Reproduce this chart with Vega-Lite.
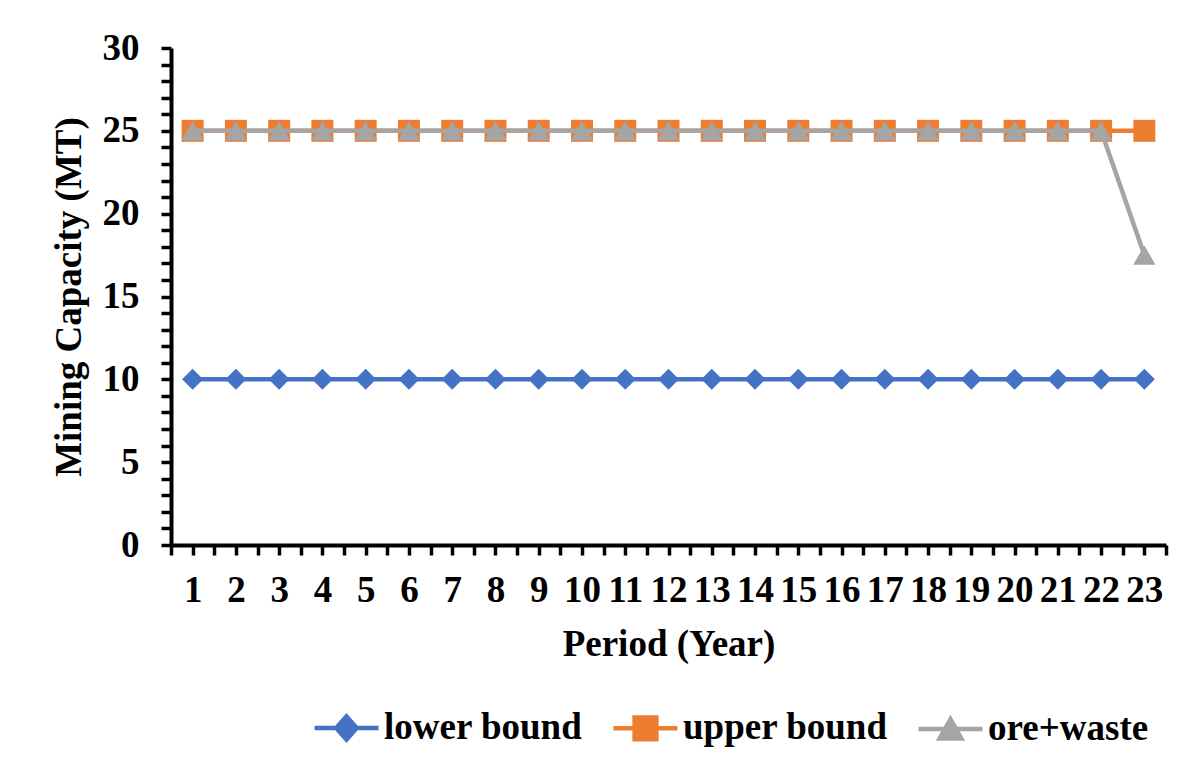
{
  "$schema": "https://vega.github.io/schema/vega-lite/v6.json",
  "width": 995,
  "height": 497,
  "autosize": {"type": "none"},
  "padding": {"left": 171, "top": 48, "right": 29, "bottom": 233},
  "background": "white",
  "config": {
    "view": {"stroke": null},
    "font": "Liberation Serif",
    "axis": {"grid": false, "domainColor": "black", "tickColor": "black", "labelColor": "black", "titleColor": "black", "labelFont": "Liberation Serif", "titleFont": "Liberation Serif", "labelFontWeight": "bold", "titleFontWeight": "bold", "labelFontSize": 37, "titleFontSize": 37}
  },
  "data": {"values": [
    {"period": 1, "series": "lower bound", "value": 10}, {"period": 2, "series": "lower bound", "value": 10}, {"period": 3, "series": "lower bound", "value": 10}, {"period": 4, "series": "lower bound", "value": 10}, {"period": 5, "series": "lower bound", "value": 10}, {"period": 6, "series": "lower bound", "value": 10}, {"period": 7, "series": "lower bound", "value": 10}, {"period": 8, "series": "lower bound", "value": 10}, {"period": 9, "series": "lower bound", "value": 10}, {"period": 10, "series": "lower bound", "value": 10}, {"period": 11, "series": "lower bound", "value": 10}, {"period": 12, "series": "lower bound", "value": 10}, {"period": 13, "series": "lower bound", "value": 10}, {"period": 14, "series": "lower bound", "value": 10}, {"period": 15, "series": "lower bound", "value": 10}, {"period": 16, "series": "lower bound", "value": 10}, {"period": 17, "series": "lower bound", "value": 10}, {"period": 18, "series": "lower bound", "value": 10}, {"period": 19, "series": "lower bound", "value": 10}, {"period": 20, "series": "lower bound", "value": 10}, {"period": 21, "series": "lower bound", "value": 10}, {"period": 22, "series": "lower bound", "value": 10}, {"period": 23, "series": "lower bound", "value": 10},
    {"period": 1, "series": "upper bound", "value": 25}, {"period": 2, "series": "upper bound", "value": 25}, {"period": 3, "series": "upper bound", "value": 25}, {"period": 4, "series": "upper bound", "value": 25}, {"period": 5, "series": "upper bound", "value": 25}, {"period": 6, "series": "upper bound", "value": 25}, {"period": 7, "series": "upper bound", "value": 25}, {"period": 8, "series": "upper bound", "value": 25}, {"period": 9, "series": "upper bound", "value": 25}, {"period": 10, "series": "upper bound", "value": 25}, {"period": 11, "series": "upper bound", "value": 25}, {"period": 12, "series": "upper bound", "value": 25}, {"period": 13, "series": "upper bound", "value": 25}, {"period": 14, "series": "upper bound", "value": 25}, {"period": 15, "series": "upper bound", "value": 25}, {"period": 16, "series": "upper bound", "value": 25}, {"period": 17, "series": "upper bound", "value": 25}, {"period": 18, "series": "upper bound", "value": 25}, {"period": 19, "series": "upper bound", "value": 25}, {"period": 20, "series": "upper bound", "value": 25}, {"period": 21, "series": "upper bound", "value": 25}, {"period": 22, "series": "upper bound", "value": 25}, {"period": 23, "series": "upper bound", "value": 25},
    {"period": 1, "series": "ore+waste", "value": 25}, {"period": 2, "series": "ore+waste", "value": 25}, {"period": 3, "series": "ore+waste", "value": 25}, {"period": 4, "series": "ore+waste", "value": 25}, {"period": 5, "series": "ore+waste", "value": 25}, {"period": 6, "series": "ore+waste", "value": 25}, {"period": 7, "series": "ore+waste", "value": 25}, {"period": 8, "series": "ore+waste", "value": 25}, {"period": 9, "series": "ore+waste", "value": 25}, {"period": 10, "series": "ore+waste", "value": 25}, {"period": 11, "series": "ore+waste", "value": 25}, {"period": 12, "series": "ore+waste", "value": 25}, {"period": 13, "series": "ore+waste", "value": 25}, {"period": 14, "series": "ore+waste", "value": 25}, {"period": 15, "series": "ore+waste", "value": 25}, {"period": 16, "series": "ore+waste", "value": 25}, {"period": 17, "series": "ore+waste", "value": 25}, {"period": 18, "series": "ore+waste", "value": 25}, {"period": 19, "series": "ore+waste", "value": 25}, {"period": 20, "series": "ore+waste", "value": 25}, {"period": 21, "series": "ore+waste", "value": 25}, {"period": 22, "series": "ore+waste", "value": 25}, {"period": 23, "series": "ore+waste", "value": 17.5}
  ]},
  "encoding": {
    "x": {"field": "period", "type": "quantitative",
      "scale": {"domain": [0.5, 23.5], "nice": false, "zero": false},
      "axis": {"title": "Period (Year)", "values": [0.5,1,1.5,2,2.5,3,3.5,4,4.5,5,5.5,6,6.5,7,7.5,8,8.5,9,9.5,10,10.5,11,11.5,12,12.5,13,13.5,14,14.5,15,15.5,16,16.5,17,17.5,18,18.5,19,19.5,20,20.5,21,21.5,22,22.5,23,23.5],
        "labelExpr": "datum.value % 1 === 0 ? format(datum.value, 'd') : ''", "labelOverlap": false, "labelFlush": false, "labelBound": false,
        "domainWidth": 4, "tickWidth": 3.5, "tickSize": 10, "labelPadding": 17, "titlePadding": 18}},
    "y": {"field": "value", "type": "quantitative",
      "scale": {"domain": [0, 30], "nice": false},
      "axis": {"title": "Mining Capacity (MT)", "values": [0,1,2,3,4,5,6,7,8,9,10,11,12,13,14,15,16,17,18,19,20,21,22,23,24,25,26,27,28,29,30],
        "labelExpr": "datum.value % 5 === 0 ? datum.label : ''", "labelOverlap": false, "labelBound": false, "labelFlush": false,
        "domainWidth": 4, "tickWidth": 3.5, "tickSize": 10, "labelPadding": 22, "titlePadding": 14}},
    "color": {"field": "series", "type": "nominal",
      "scale": {"domain": ["lower bound", "upper bound", "ore+waste"], "range": ["#4472C4", "#ED7D31", "#A5A5A5"]},
      "legend": {"title": null, "orient": "none", "legendX": 141, "legendY": 645, "direction": "horizontal",
        "labelFont": "Liberation Serif", "labelFontWeight": "bold", "labelFontSize": 37, "labelColor": "black", "labelLimit": 400,
        "labelOffset": 3, "columnPadding": 21, "symbolSize": 4096, "symbolOpacity": 1,
        "encode": {"symbols": {"update": {
          "shape": {"signal": "datum.value === 'lower bound' ? 'M-1,0H1M0,-0.36L0.32,0L0,0.36L-0.32,0Z' : datum.value === 'upper bound' ? 'M-1,0H1M-0.34,-0.34H0.34V0.34H-0.34Z' : 'M-1,0H1M0,-0.3L0.34,0.3H-0.34Z'"},
          "fill": {"scale": "color", "field": "value"},
          "stroke": {"scale": "color", "field": "value"},
          "strokeWidth": {"value": 4.5},
          "opacity": {"value": 1},
          "size": {"value": 4096}}}}}}
  },
  "layer": [
    {"transform": [{"filter": "datum.series === 'lower bound'"}], "mark": {"type": "line", "strokeWidth": 4.5}},
    {"transform": [{"filter": "datum.series === 'lower bound'"}], "mark": {"type": "point", "filled": true, "opacity": 1, "shape": "diamond", "size": 441}},
    {"transform": [{"filter": "datum.series === 'upper bound'"}], "mark": {"type": "line", "strokeWidth": 4.5}},
    {"transform": [{"filter": "datum.series === 'upper bound'"}], "mark": {"type": "point", "filled": true, "opacity": 1, "shape": "square", "size": 484}},
    {"transform": [{"filter": "datum.series === 'ore+waste'"}], "mark": {"type": "line", "strokeWidth": 4.5}},
    {"transform": [{"filter": "datum.series === 'ore+waste'"}], "mark": {"type": "point", "filled": true, "opacity": 1, "shape": "triangle-up", "size": 500}}
  ]
}
